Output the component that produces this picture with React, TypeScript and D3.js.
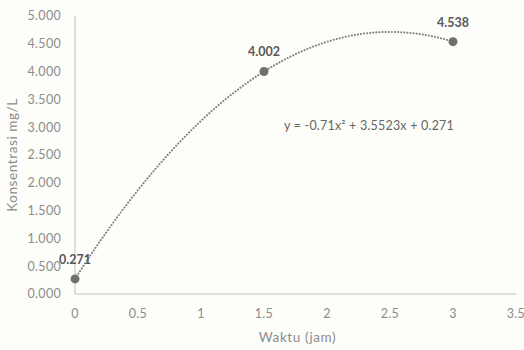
import React from 'react';
import * as d3 from 'd3';

// Data
const times = [0, 1.5, 3];
const concentrations = [0.271, 4.002, 4.538];
const pointLabels = ['0.271', '4.002', '4.538'];
// polynomial trendline y = a x^2 + b x + c (from the chart's equation label)
const trendCoeffs = [-0.71, 3.5523, 0.271];
const trendLabel = 'y = -0.71x² + 3.5523x + 0.271';
const xTicks = [0, 0.5, 1, 1.5, 2, 2.5, 3, 3.5];
const yTicks = [0, 0.5, 1, 1.5, 2, 2.5, 3, 3.5, 4, 4.5, 5];
const xTitle = 'Waktu (jam)';
const yTitle = 'Konsentrasi mg/L';

const width = 524;
const height = 350;
const margin = { top: 16, right: 8, bottom: 56, left: 75 };
const font = 'Lato, "Open Sans", sans-serif';

const App = () => {
  const x = d3.scaleLinear()
    .domain([0, 3.5])
    .range([margin.left, width - margin.right]);

  const y = d3.scaleLinear()
    .domain([0, 5])
    .range([height - margin.bottom, margin.top]);

  const [a, b, c] = trendCoeffs;
  const trendPts = d3.range(0, 3.0001, 0.05).map(t => [t, a * t * t + b * t + c]);
  const trend = d3.line()
    .x(d => x(d[0]))
    .y(d => y(d[1]))
    .curve(d3.curveMonotoneX);

  return (
    <svg width={width} height={height}
      style={{ position: 'absolute', left: 0, top: 0, background: '#fdfdf9' }}
      fontFamily={font}>
      {/* axes */}
      <line x1={x(0)} x2={x(0)} y1={y(5)} y2={y(0)} stroke="#bfbfbf" strokeWidth={1} />
      <line x1={x(0)} x2={x(3.5)} y1={y(0)} y2={y(0)} stroke="#bfbfbf" strokeWidth={1} />

      {yTicks.map(t => (
        <text key={t} x={margin.left - 14} y={y(t)} dy="0.35em" textAnchor="end"
          fontSize={12.5} letterSpacing={0.3} fill="#8c8c8c">{d3.format('.3f')(t)}</text>
      ))}
      {xTicks.map(t => (
        <text key={t} x={x(t)} y={y(0) + 20} dy="0.35em" textAnchor="middle"
          fontSize={12.5} letterSpacing={0.3} fill="#8c8c8c">{String(t)}</text>
      ))}

      <text x={(x(0) + x(3.5)) / 2 + 2} y={342} textAnchor="middle" fontSize={13.5}
        letterSpacing={0.6} fill="#8c8c8c">{xTitle}</text>
      <text transform={`translate(17,${(y(0) + y(5)) / 2}) rotate(-90)`} textAnchor="middle"
        fontSize={13.5} letterSpacing={0.6} fill="#8c8c8c">{yTitle}</text>

      {/* trendline */}
      <path d={trend(trendPts) || ''} fill="none" stroke="#7f7f7f" strokeWidth={2}
        strokeDasharray="0.1 3" strokeLinecap="round" />

      {/* points */}
      {times.map((t, i) => (
        <g key={t}>
          <circle cx={x(t)} cy={y(concentrations[i])} r={4.5} fill="#6f6f6f" />
          <text x={x(t)} y={y(concentrations[i]) - 15} textAnchor="middle"
            fontSize={12.5} fontWeight="bold" fill="#595959">{pointLabels[i]}</text>
        </g>
      ))}

      <text x={369} y={130} textAnchor="middle" fontSize={12.5} letterSpacing={0.2} fill="#666666">{trendLabel}</text>
    </svg>
  );
};

export default App;
